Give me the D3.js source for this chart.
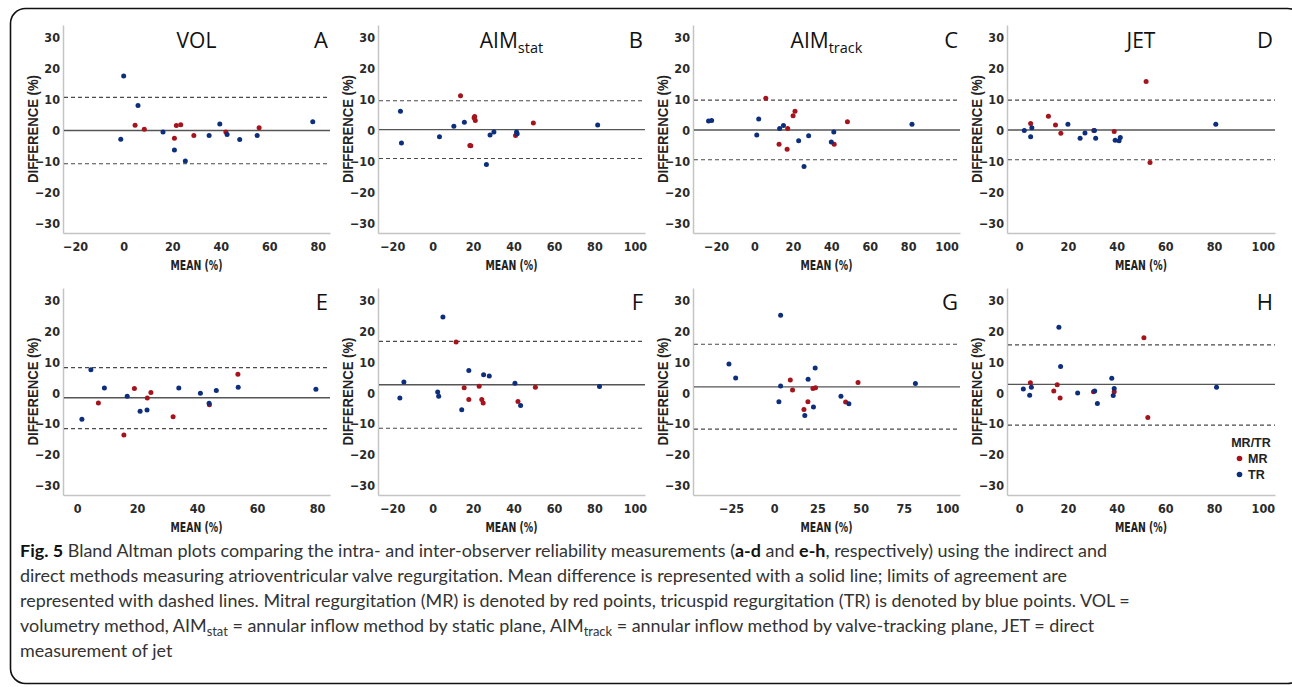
<!DOCTYPE html>
<html><head><meta charset="utf-8">
<script src="https://cdn.jsdelivr.net/npm/d3@7"></script>
<style>html,body{margin:0;padding:0;background:#fff;}svg{display:block;}</style>
</head><body>
<svg id="chart" width="1292" height="687"></svg>
<script>
// ---- data: [mean %, difference %] ----
const volIntraMR = [[4.7,1.7],[8.5,0.4],[20.9,-2.5],[21.7,1.6],[23.5,1.9],[28.9,-1.6],[42.1,-0.5],[55.8,0.9]];
const volIntraTR = [[0,17.6],[-1.2,-2.8],[5.9,8.1],[16.2,-0.5],[20.9,-6.3],[25.4,-9.8],[35.2,-1.6],[39.6,2.1],[42.6,-1.3],[47.8,-2.9],[55.0,-1.6],[77.9,2.8]];
const statIntraMR = [[13.8,11.2],[18.4,-4.8],[18.9,-4.9],[20.5,4.1],[20.8,4.5],[21.1,3.2],[41.0,-1.6],[49.8,2.4]];
const statIntraTR = [[-15.9,6.2],[-15.4,-4.0],[3.4,-2.0],[10.5,1.4],[15.7,2.7],[26.6,-10.9],[28.4,-1.4],[30.3,-0.5],[41.5,-0.5],[41.8,-1.0],[81.6,1.8]];
const trackIntraMR = [[5.9,10.4],[12.8,-4.4],[17.0,-6.0],[17.3,0.7],[20.1,4.8],[21.1,6.2],[41.5,-4.4],[48.4,2.8]];
const trackIntraTR = [[-23.9,3.1],[-22.3,3.2],[1.2,-1.4],[2.2,3.7],[13.1,0.7],[15.1,1.6],[23.0,-3.3],[25.8,-11.6],[28.2,-1.7],[40.0,-3.7],[41.3,-0.5],[82.0,2.0]];
const jetIntraMR = [[4.7,2.3],[12.0,4.6],[14.9,1.8],[17.1,-0.9],[30.6,0.0],[39.0,-0.3],[52.1,15.8],[53.7,-10.3]];
const jetIntraTR = [[2.1,0.0],[5.2,0.9],[4.7,-2.0],[20.0,2.0],[25.0,-2.5],[27.0,-0.8],[30.9,0.0],[31.4,-2.5],[39.4,-3.1],[41.0,-3.3],[41.5,-2.2],[80.7,2.0]];
const volInterMR = [[7.1,-3.2],[15.6,-13.6],[19.1,1.5],[23.4,-1.6],[24.6,0.2],[32.0,-7.7],[44.1,-3.8],[53.6,6.1]];
const volInterTR = [[1.6,-8.5],[4.6,7.5],[9.1,1.6],[16.7,-1.0],[21.0,-5.9],[23.3,-5.5],[33.9,1.6],[41.1,-0.1],[44.0,-3.3],[46.4,0.8],[53.7,1.9],[79.6,1.2]];
const statInterMR = [[11.6,16.5],[15.6,1.7],[17.9,-2.1],[23.0,2.2],[24.3,-2.1],[25.0,-3.2],[42.2,-2.7],[50.8,1.9]];
const statInterTR = [[-16.2,-1.6],[-14.2,3.6],[2.5,0.3],[3.0,-1.0],[5.1,24.6],[14.4,-5.4],[17.9,7.3],[25.2,5.9],[28.0,5.5],[40.7,3.2],[43.5,-4.0],[82.5,2.1]];
const trackInterMR = [[9.3,4.2],[10.6,1.0],[17.2,-5.3],[19.5,-2.8],[22.4,1.5],[23.9,1.7],[41.3,-2.9],[48.5,3.4]];
const trackInterTR = [[-26.2,9.4],[-22.3,4.9],[2.7,-2.8],[3.7,25.2],[3.7,2.3],[17.7,-7.3],[19.6,4.5],[22.7,-4.5],[23.7,8.1],[38.6,-1.0],[43.2,-3.5],[81.7,3.1]];
const jetInterMR = [[4.6,3.3],[14.2,0.7],[15.6,2.7],[16.8,-1.6],[30.5,0.4],[39.0,0.4],[51.2,17.9],[52.8,-7.9]];
const jetInterTR = [[1.7,1.3],[4.3,-0.7],[5.0,1.9],[16.3,21.3],[17.0,8.6],[24.0,0.0],[31.0,0.7],[32.1,-3.4],[38.0,4.8],[38.6,-0.8],[39.0,1.5],[81.0,1.9]];

const panelLetters = ["A","B","C","D","E","F","G","H"];
const meanDiff = [0, 0.3, 0.2, 0.2, -1.5, 2.7, 2.0, 2.8];
const upperLoA = [10.7, 9.6, 9.8, 9.8, 8.2, 16.7, 15.8, 15.6];
const lowerLoA = [-10.7, -9.0, -9.4, -9.4, -11.5, -11.4, -11.7, -10.4];
const xDomains = [[-25,85],[-27,105],[-32,107],[-5,105],[-4.7,84.3],[-27,105],[-47,107.5],[-5,105]];
const xTickVals = [[-20,0,20,40,60,80],[-20,0,20,40,60,80,100],[-20,0,20,40,60,80,100],[0,20,40,60,80,100],
                   [0,20,40,60,80],[-20,0,20,40,60,80,100],[-25,0,25,50,75,100],[0,20,40,60,80,100]];
const yTickVals = [-30,-20,-10,0,10,20,30];
const yDomain = [-33, 34];
const methodTitles = [["VOL",""],["AIM","stat"],["AIM","track"],["JET",""]];
const legendTitle = "MR/TR";
const groups = ["MR","TR"];
const mrData = [volIntraMR, statIntraMR, trackIntraMR, jetIntraMR, volInterMR, statInterMR, trackInterMR, jetInterMR];
const trData = [volIntraTR, statIntraTR, trackIntraTR, jetIntraTR, volInterTR, statInterTR, trackInterTR, jetInterTR];

// ---- layout ----
const colors = {MR:"#a5141c", TR:"#0d2e7c"};
const cols = [{l:63,r:330},{l:378,r:645},{l:693,r:960},{l:1007,r:1275}];
const rows = [{top:25,bottom:233,tickY:248,titleY:270,headY:48},{top:288,bottom:495,tickY:511,titleY:532,headY:310}];
const tickFont = "'Liberation Sans Narrow','Arial Narrow','DejaVu Sans Condensed','Liberation Sans',sans-serif";

const svg = d3.select("#chart");

// frame
svg.append("rect").attr("x",10.5).attr("y",8.5).attr("width",1292).attr("height",675)
  .attr("rx",15).attr("fill","none").attr("stroke","#111").attr("stroke-width",1.6);

for (let i=0;i<8;i++){
  const c = cols[i%4], r = rows[Math.floor(i/4)];
  const x = d3.scaleLinear().domain(xDomains[i]).range([c.l, c.r]);
  const y = d3.scaleLinear().domain(yDomain).range([r.bottom, r.top]);
  const g = svg.append("g");

  // axes
  const yAx = g.append("g").attr("transform",`translate(${c.l},0)`)
    .call(d3.axisLeft(y).tickValues(yTickVals).tickSize(0).tickPadding(3).tickFormat(d3.format("d")));
  const xAx = g.append("g").attr("transform",`translate(0,${r.bottom})`)
    .call(d3.axisBottom(x).tickValues(xTickVals[i]).tickSize(0).tickPadding(9).tickFormat(d3.format("d")));
  [yAx,xAx].forEach(a=>{
    a.select(".domain").attr("stroke","#c4c4c4").attr("stroke-width",1.5);
    a.selectAll("text").attr("font-family",tickFont).attr("font-size",12.5).attr("font-weight","bold").attr("fill","#2a2a2a");
  });

  // reference lines
  const ln = (v,dash,col,w)=>g.append("line").attr("x1",c.l+1).attr("x2",c.r).attr("y1",y(v)).attr("y2",y(v))
      .attr("stroke",col).attr("stroke-width",w).attr("stroke-dasharray",dash);
  ln(upperLoA[i],"4,3","#4a4a4a",1.2);
  ln(lowerLoA[i],"4,3","#4a4a4a",1.2);
  ln(meanDiff[i],null,"#555",1.4);

  // points
  [["MR",mrData[i]],["TR",trData[i]]].forEach(([k,arr])=>{
    g.selectAll(null).data(arr).enter().append("circle")
      .attr("cx",d=>x(d[0])).attr("cy",d=>y(d[1])).attr("r",2.5).attr("fill",colors[k]);
  });

  // axis titles
  const cy = (r.top+r.bottom)/2;
  g.append("text").attr("transform",`translate(${c.l-25},${cy}) rotate(-90)`).attr("text-anchor","middle")
    .attr("font-family","'Liberation Sans',Arial,sans-serif").attr("font-weight","bold").attr("font-size",14)
    .attr("textLength",108).attr("lengthAdjust","spacingAndGlyphs")
    .attr("fill","#222").text("DIFFERENCE (%)");
  g.append("text").attr("x",(c.l+c.r)/2).attr("y",r.titleY).attr("text-anchor","middle")
    .attr("font-family",tickFont).attr("font-weight","bold").attr("font-size",14)
    .attr("textLength",52).attr("lengthAdjust","spacingAndGlyphs")
    .attr("fill","#222").text("MEAN (%)");

  // headings
  if (i<4){
    const t = g.append("text").attr("x",(c.l+c.r)/2).attr("y",r.headY).attr("text-anchor","middle")
      .attr("font-family","'Open Sans',sans-serif").attr("font-size",21).attr("fill","#111");
    t.append("tspan").text(methodTitles[i][0]);
    if (methodTitles[i][1]) t.append("tspan").attr("font-size",14.5).attr("dy",5).text(methodTitles[i][1]);
  }
  g.append("text").attr("x",c.r-2).attr("y",r.headY).attr("text-anchor","end")
    .attr("font-family","'Open Sans',sans-serif").attr("font-size",22).attr("fill","#111").text(panelLetters[i]);

  // legend in last panel
  if (i===7){
    const lg = g.append("g");
    lg.append("text").attr("x",1251).attr("y",447).attr("text-anchor","middle")
      .attr("font-family","'Liberation Sans',Arial,sans-serif").attr("font-weight","bold").attr("font-size",12.5)
      .attr("fill","#222").text(legendTitle);
    groups.forEach((k,j)=>{
      lg.append("circle").attr("cx",1239.5).attr("cy",458.5+j*16).attr("r",2.8).attr("fill",colors[k]);
      lg.append("text").attr("x",1248).attr("y",463+j*16)
        .attr("font-family","'Liberation Sans',Arial,sans-serif").attr("font-weight","bold").attr("font-size",12.5)
        .attr("fill","#222").text(k);
    });
  }
}

// ---- caption ----
const captionLines = [
  [["Fig. 5","b"],[" Bland Altman plots comparing the intra- and inter-observer reliability measurements ("],["a-d","b"],[" and "],["e-h","b"],[", respectively) using the indirect and"]],
  [["direct methods measuring atrioventricular valve regurgitation. Mean difference is represented with a solid line; limits of agreement are"]],
  [["represented with dashed lines. Mitral regurgitation (MR) is denoted by red points, tricuspid regurgitation (TR) is denoted by blue points. VOL ="]],
  [["volumetry method, AIM"],["stat","s"],[" = annular inflow method by static plane, AIM"],["track","s"],[" = annular inflow method by valve-tracking plane, JET = direct"]],
  [["measurement of jet"]]
];
const capFont = "Lato,'Open Sans',sans-serif";
let capSize = 18;
const capG = svg.append("g");
const capTexts = captionLines.map((line,li)=>{
  const t = capG.append("text").attr("x",20).attr("y",557+li*25)
    .attr("font-family",capFont).attr("font-size",capSize).attr("fill","#333");
  line.forEach(([s,st],si)=>{
    const sp = t.append("tspan").text(s);
    if (st==="b") sp.attr("font-weight","bold").attr("fill","#111");
    if (st==="s") { sp.attr("font-size",capSize*0.72).attr("dy",4); }
    else if (si>0 && line[si-1][1]==="s") sp.attr("dy",-4);
  });
  return t;
});
// fit the caption font size so line 3 spans to its reference width
const w3 = capTexts[2].node().getComputedTextLength();
capSize = capSize * 1110 / w3;
capTexts.forEach(t=>{
  t.attr("font-size",capSize);
  t.selectAll("tspan").each(function(){
    const s = d3.select(this);
    if (s.attr("font-size")) s.attr("font-size",capSize*0.72);
  });
});
</script>
</body></html>
